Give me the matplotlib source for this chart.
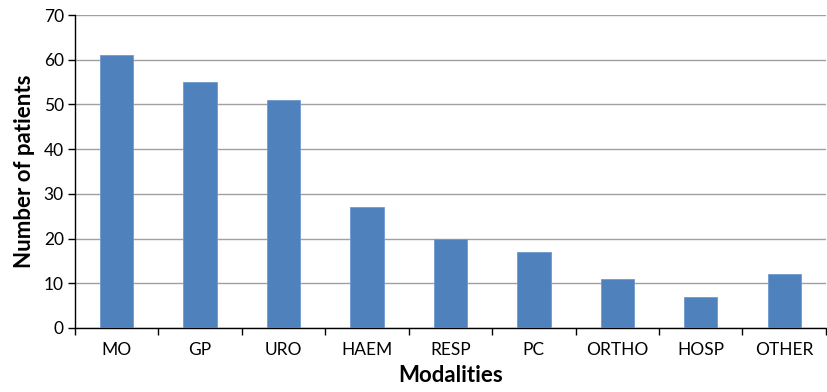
import matplotlib.pyplot as plt
import numpy as np

# Patients per referring modality
modalities = ['MO', 'GP', 'URO', 'HAEM', 'RESP', 'PC', 'ORTHO', 'HOSP', 'OTHER']
patients = [61, 55, 51, 27, 20, 17, 11, 7, 12]

plt.rcParams['font.family'] = ['Lato', 'DejaVu Sans']

fig = plt.figure(figsize=(8.27, 3.92), dpi=100)
ax = fig.add_axes([0.0907, 0.1633, 0.908, 0.7984])

x = np.arange(len(modalities))
ax.bar(x, patients, width=0.4, color='#4F81BD', edgecolor='#6f9ad0', linewidth=0.6, zorder=3)

ax.set_xlim(-0.5, len(modalities) - 0.5)
ax.set_ylim(0, 70)
ax.set_yticks(np.arange(0, 71, 10))
ax.yaxis.grid(True, color='#A0A0A0', linewidth=1.0, zorder=0)

# category labels centred under bars, tick marks between categories
ax.set_xticks(x)
ax.set_xticklabels(modalities, fontsize=12.5)
ax.set_xticks(np.arange(-0.5, len(modalities), 1), minor=True)
ax.tick_params(axis='x', which='major', length=0, pad=10)
ax.tick_params(axis='x', which='minor', length=5, width=1, color='black')
ax.tick_params(axis='y', length=5, width=1, labelsize=12.5, pad=3)

for side in ['top', 'right']:
    ax.spines[side].set_visible(False)
ax.spines['left'].set_linewidth(1)
ax.spines['bottom'].set_linewidth(1)

ax.set_xlabel('Modalities', fontsize=16, fontweight='bold', labelpad=5)
ax.set_ylabel('Number of patients', fontsize=16, fontweight='bold', labelpad=6)

fig.savefig('out.png', dpi=100)
